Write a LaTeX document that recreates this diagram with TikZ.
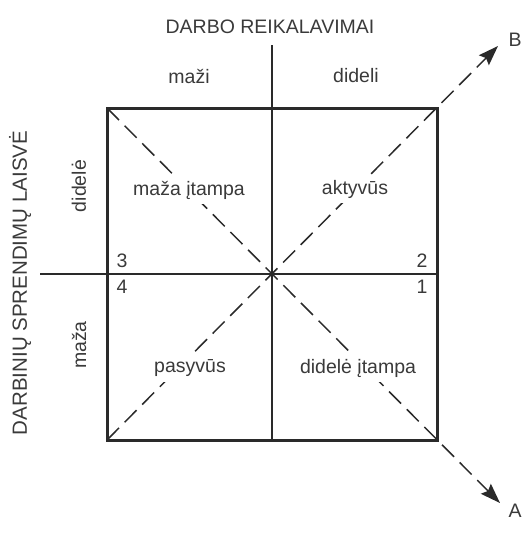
\documentclass[tikz,border=0pt]{standalone}
\usepackage{fontspec}
\setmainfont{Liberation Sans}
\usepackage{xcolor}
\usetikzlibrary{positioning, arrows.meta, calc}
\definecolor{ink}{HTML}{2A2A2A}
\definecolor{txt}{HTML}{3A3A3A}

\begin{document}
\begin{tikzpicture}[
  x=1pt, y=-1pt,
  font=\fontsize{19.5}{22}\selectfont,
  every node/.style={align=center, text=txt, inner sep=0pt},
  frame/.style={draw=ink, line width=3pt},
  axis/.style={draw=ink, line width=1.4pt},
  diag/.style={draw=ink, line width=1.5pt, dash pattern=on 17pt off 8pt},
  diagarr/.style={diag, -{Stealth[length=20pt, width=14pt, inset=3pt]}},
  cell/.style={fill=white, inner xsep=1pt, inner ysep=5pt},
  side/.style={rotate=90}
]
  \useasboundingbox (0,0) rectangle (526,539);

  \coordinate (tl) at (107,108);
  \coordinate (tr) at (437,108);
  \coordinate (bl) at (107,440);
  \coordinate (br) at (437,440);
  \coordinate (ctr) at (272,274);
  \coordinate (vtop) at (272,45);
  \coordinate (vbot) at (272,440);
  \coordinate (hleft) at (40,274);
  \coordinate (hright) at (437,274);
  \coordinate (tipB) at (498,46);
  \coordinate (tipA) at (500,503);

  \draw[diagarr] (bl) -- (tipB);
  \draw[diagarr] (tl) -- (tipA);

  \draw[frame] (tl) rectangle (br);
  \draw[axis] (vtop) -- (vbot);
  \draw[axis] (hleft) -- (hright);

  \node (B) at (515,40) {B};
  \node (A) at (515,511) {A};

  \node (title) at (270,27) {DARBO REIKALAVIMAI};
  \node (low) at (189,76) {maži};
  \node (high) at (356,76) {dideli};

  \node[side, font=\fontsize{20.5}{23}\selectfont] (ytitle) at (20,283) {DARBINIŲ SPRENDIMŲ LAISVĖ};
  \node[side] (ybig) at (79,186) {didelė};
  \node[side] (ysmall) at (79,345) {maža};

  \node (q3) at (122,261) {3};
  \node (q4) at (122,287) {4};
  \node (q2) at (422,261) {2};
  \node (q1) at (422,287) {1};

  \node[cell] (lowstrain) at (189,190) {maža įtampa};
  \node[cell] (active) at (355,189) {aktyvūs};
  \node[cell] (passive) at (190,368) {pasyvūs};
  \node[cell] (highstrain) at (358,368) {didelė įtampa};
\end{tikzpicture}
\end{document}
